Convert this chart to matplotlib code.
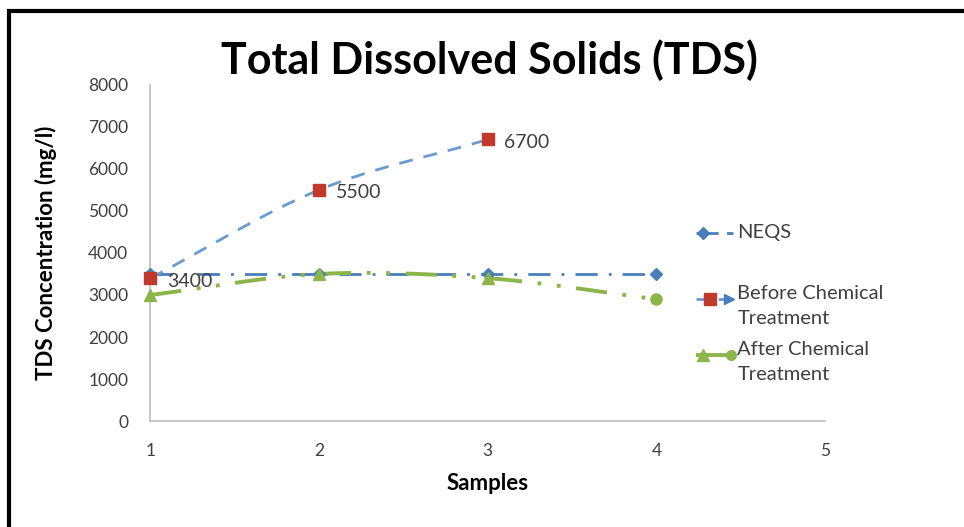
import numpy as np
import matplotlib.pyplot as plt
from matplotlib.patches import Rectangle
from matplotlib.lines import Line2D

plt.rcParams['font.family'] = ['Lato', 'DejaVu Sans']

samples = [1, 2, 3, 4]
neqs = [3500, 3500, 3500, 3500]
before_x = [1, 2, 3]
before = [3400, 5500, 6700]
after = [3000, 3500, 3400, 2900]
before_labels = ['3400', '5500', '6700']
yticks = [0, 1000, 2000, 3000, 4000, 5000, 6000, 7000, 8000]
xticks = [1, 2, 3, 4, 5]
legend_labels = ['NEQS', 'Before Chemical\nTreatment', 'After Chemical\nTreatment']


def smooth(xs, ys, n=30):
    # Catmull-Rom style curve through the points (like Excel smoothed lines)
    xs = np.asarray(xs, float)
    ys = np.asarray(ys, float)
    px = np.concatenate([[2 * xs[0] - xs[1]], xs, [2 * xs[-1] - xs[-2]]])
    py = np.concatenate([[2 * ys[0] - ys[1]], ys, [2 * ys[-1] - ys[-2]]])
    outx, outy = [], []
    for i in range(1, len(px) - 2):
        t = np.linspace(0, 1, n)
        for p, out in ((px, outx), (py, outy)):
            p0, p1, p2, p3 = p[i - 1], p[i], p[i + 1], p[i + 2]
            out.extend(0.5 * (2 * p1 + (-p0 + p2) * t
                              + (2 * p0 - 5 * p1 + 4 * p2 - p3) * t ** 2
                              + (-p0 + 3 * p1 - 3 * p2 + p3) * t ** 3))
    return outx, outy


blue = '#4a7ebb'
lblue = '#6b9bd1'
red = '#c0392b'
green = '#8cb64a'
tcol = '#404040'

fig = plt.figure(figsize=(9.64, 5.27), dpi=100)
ax = fig.add_axes([0.156, 0.201, 0.700, 0.638])

# NEQS
ax.plot(samples, neqs, color=blue, lw=2, dashes=(8, 4, 1, 4), zorder=2, clip_on=False)
ax.plot(samples, neqs, ls='none', marker='D', ms=6, color=blue, zorder=3, clip_on=False)

# After chemical treatment
sx, sy = smooth(samples, after)
ax.plot(sx, sy, color=green, lw=2.8, dashes=(8, 4, 1, 4, 1, 4), zorder=2, clip_on=False)
ax.plot(samples[:3], after[:3], ls='none', marker='^', ms=8, color=green, zorder=3, clip_on=False)
ax.plot(samples[3:], after[3:], ls='none', marker='o', ms=8, color=green, zorder=3, clip_on=False)

# Before chemical treatment
sx, sy = smooth(before_x, before)
ax.plot(sx, sy, color=lblue, lw=2, dashes=(5, 4), zorder=2, clip_on=False)
ax.plot(before_x, before, ls='none', marker='s', ms=8, color=red, zorder=4, clip_on=False)
for x, y, s in zip(before_x, before, before_labels):
    ax.annotate(s, (x, y), xytext=(12, -6), textcoords='offset points',
                fontsize=14, color=tcol)

ax.set_xlim(1, 5)
ax.set_ylim(0, 8000)
ax.set_xticks(xticks)
ax.set_yticks(yticks)
ax.tick_params(length=0, labelsize=12.5, colors=tcol)
ax.tick_params(axis='x', pad=16)
ax.tick_params(axis='y', pad=16)
for s in ['top', 'right']:
    ax.spines[s].set_visible(False)
for s in ['left', 'bottom']:
    ax.spines[s].set_color('#bfbfbf')
    ax.spines[s].set_linewidth(1.2)

ax.set_xlabel('Samples', fontsize=16, fontweight='bold', labelpad=10)
ax.set_ylabel('TDS Concentration (mg/l)', fontsize=16, fontweight='bold', labelpad=22)
fig.text(0.508, 0.885, 'Total Dissolved Solids (TDS)', ha='center', va='center',
         fontsize=31, fontweight='bold')

# legend drawn by hand (uneven spacing like the original)
leg_y = [0.558, 0.446 - 0.013, 0.339 - 0.013]
hx0, hx1, tx = 0.722, 0.760, 0.765
fig.add_artist(Line2D([hx0, hx1], [leg_y[0]] * 2, color=blue, lw=2, dashes=(8, 3, 3, 3)))
fig.add_artist(Line2D([(hx0 + hx1) / 2 - 0.012], [leg_y[0]], color=blue, marker='D', ms=6))
fig.add_artist(Line2D([hx0, hx1], [leg_y[1]] * 2, color=lblue, lw=2, dashes=(4, 4)))
fig.add_artist(Line2D([(hx0 + hx1) / 2 - 0.005], [leg_y[1]], color=red, marker='s', ms=8))
fig.add_artist(Line2D([hx1 - 0.004], [leg_y[1]], color=blue, marker='>', ms=7))
fig.add_artist(Line2D([hx0, hx1], [leg_y[2]] * 2, color=green, lw=2.8, dashes=(8, 4)))
fig.add_artist(Line2D([(hx0 + hx1) / 2 - 0.012], [leg_y[2]], color=green, marker='^', ms=8))
fig.add_artist(Line2D([hx1 - 0.002], [leg_y[2]], color=green, marker='o', ms=7))
for y, s in zip(leg_y, legend_labels):
    two = '\n' in s
    fig.text(tx, y + (0.027 if two else 0), s, fontsize=14.5, color=tcol,
             va='top' if two else 'center', linespacing=1.6)

fig.add_artist(Rectangle((0.009, -0.05), 1.2, 1.03, transform=fig.transFigure,
                         fill=False, edgecolor='black', lw=3))

fig.savefig('out.png', dpi=100)
